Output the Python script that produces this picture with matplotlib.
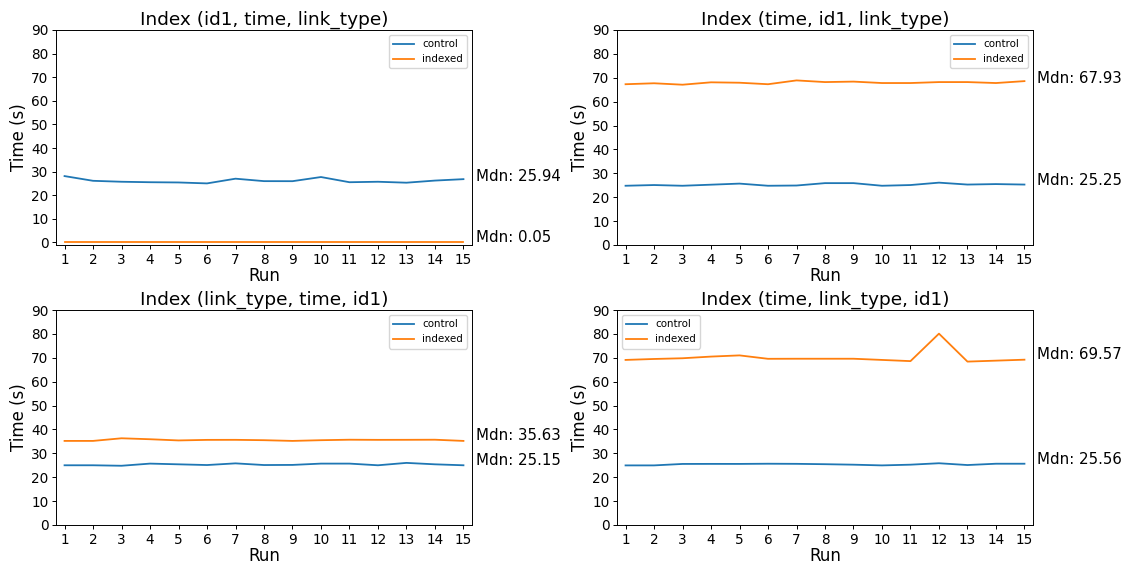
import numpy as np
import matplotlib
matplotlib.use("Agg")
import matplotlib.pyplot as plt

runs = list(range(1, 16))

titles = ["Index (id1, time, link_type)", "Index (time, id1, link_type)",
          "Index (link_type, time, id1)", "Index (time, link_type, id1)"]

control_1 = [28.1, 26.1, 25.7, 25.5, 25.4, 25.0, 27.0, 25.96, 25.94, 27.7, 25.5, 25.7, 25.3, 26.2, 26.8]
indexed_1 = [0.05, 0.05, 0.05, 0.05, 0.05, 0.05, 0.05, 0.05, 0.05, 0.05, 0.05, 0.05, 0.05, 0.05, 0.05]

control_2 = [24.8, 25.1, 24.8, 25.25, 25.7, 24.8, 24.9, 25.9, 25.9, 24.8, 25.1, 26.1, 25.3, 25.5, 25.3]
indexed_2 = [67.3, 67.7, 67.1, 68.1, 67.93, 67.3, 68.9, 68.2, 68.4, 67.8, 67.8, 68.2, 68.2, 67.8, 68.6]

control_3 = [25.0, 25.0, 24.8, 25.7, 25.4, 25.1, 25.8, 25.1, 25.15, 25.7, 25.7, 25.0, 26.0, 25.4, 25.0]
indexed_3 = [35.2, 35.2, 36.3, 35.9, 35.4, 35.63, 35.65, 35.5, 35.2, 35.5, 35.7, 35.64, 35.66, 35.7, 35.2]

control_4 = [24.95, 24.95, 25.56, 25.58, 25.57, 25.65, 25.6, 25.45, 25.25, 24.95, 25.25, 25.85, 25.1, 25.65, 25.65]
indexed_4 = [69.1, 69.5, 69.8, 70.5, 71.0, 69.57, 69.6, 69.6, 69.6, 69.1, 68.6, 80.1, 68.4, 68.8, 69.2]

controls = [control_1, control_2, control_3, control_4]
indexeds = [indexed_1, indexed_2, indexed_3, indexed_4]
legend_locs = ["upper right", "upper right", "upper right", "upper left"]

fig = plt.figure(figsize=(11.31, 5.67), dpi=100)
lefts = [56 / 1131, 617 / 1131, 56 / 1131, 617 / 1131]
bottoms = [1 - 245 / 567, 1 - 245 / 567, 1 - 525 / 567, 1 - 525 / 567]
w = 416 / 1131
h = 215 / 567

for i in range(4):
    ax = fig.add_axes([lefts[i], bottoms[i], w, h])
    ax.plot(runs, controls[i], label="control", lw=1.3)
    ax.plot(runs, indexeds[i], label="indexed", lw=1.3)
    ax.set_xlim(0.7, 15.3)
    if i == 0:
        ax.set_ylim(-1.1, 90)
    else:
        ax.set_ylim(0, 90)
    ax.set_xticks(runs)
    ax.set_yticks(range(0, 91, 10))
    ax.tick_params(labelsize=9.8, length=3, width=0.7, pad=2.5)
    for s in ax.spines.values():
        s.set_linewidth(0.7)
    ax.set_title(titles[i], fontsize=13.3, pad=4)
    ax.set_xlabel("Run", fontsize=12, labelpad=0)
    ax.set_ylabel("Time (s)", fontsize=12, labelpad=2)
    ax.legend(loc=legend_locs[i], fontsize=7.4)
    for series in [controls[i], indexeds[i]]:
        m = np.median(series)
        ax.text(15.45, m, f"Mdn: {m:.2f}", fontsize=10.8)

fig.savefig("out.png", dpi=100)
